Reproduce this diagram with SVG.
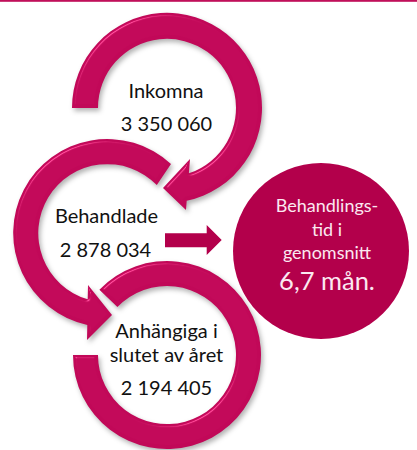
<svg xmlns="http://www.w3.org/2000/svg" width="417" height="450" viewBox="0 0 417 450">
<style>
.ring{fill:#c10858;filter:url(#bevel)}
.lbl{font-family:Lato,"Open Sans","Liberation Sans",sans-serif;font-size:20px;fill:#111;text-anchor:middle}
.wl{font-family:Lato,"Open Sans","Liberation Sans",sans-serif;fill:#fbe8f1;text-anchor:middle}
.flat{fill:#b3004b}
</style>
<defs>
<filter id="bevel" x="-15%" y="-15%" width="135%" height="135%" color-interpolation-filters="sRGB">
<feGaussianBlur in="SourceAlpha" stdDeviation="2.5" result="b"/>
<feOffset in="b" dx="2" dy="3" result="ob"/>
<feFlood flood-color="#000" flood-opacity="0.3"/>
<feComposite in2="ob" operator="in" result="shadow"/>
<feGaussianBlur in="SourceAlpha" stdDeviation="1.8" result="b2"/>
<feSpecularLighting in="b2" surfaceScale="4" specularConstant="0.7" specularExponent="28" lighting-color="#ffffff" result="spec">
<feDistantLight azimuth="235" elevation="32"/>
</feSpecularLighting>
<feComposite in="spec" in2="SourceAlpha" operator="in" result="specIn"/>
<feComposite in="SourceGraphic" in2="specIn" operator="arithmetic" k1="0" k2="1" k3="0.4" k4="0" result="lit"/>
<feMerge><feMergeNode in="shadow"/><feMergeNode in="lit"/></feMerge>
</filter>
</defs>
<rect x="0" y="0" width="417" height="1.8" fill="#c0105a"/>
<g id="node-inkomna">
<path class="ring" d="M72,108 A95,95 0 1 1 186.7,200.8 L186,210 L163,188 L190,159 L188.9,173.3 A69,69 0 1 0 98,108 Z"/>
<text class="lbl" x="166" y="98">Inkomna</text>
<text class="lbl" x="166.5" y="131">3 350 060</text>
</g>
<g id="node-behandlade">
<path class="ring" d="M171,164 A94,94 0 1 0 87.3,324.9 L87,340 L112,315 L88,285 L87.7,299.3 A69,69 0 1 1 156.8,185.1 Z"/>
<text class="lbl" x="106.5" y="223">Behandlade</text>
<text class="lbl" x="105.5" y="257">2 878 034</text>
</g>
<g id="node-anhangiga">
<path class="ring" d="M73,355 A94,94 0 1 0 99.4,289.7 L117.4,307.1 A69,69 0 1 1 98,355 Z"/>
<text class="lbl" x="166.5" y="338">Anhängiga i</text>
<text class="lbl" x="166.5" y="362">slutet av året</text>
<text class="lbl" x="166.5" y="395">2 194 405</text>
</g>
<g id="node-snitt">
<circle class="flat" cx="321" cy="251" r="88"/>
<text class="wl" x="327" y="212" font-size="18">Behandlings-</text>
<text class="wl" x="327" y="235.5" font-size="18">tid i</text>
<text class="wl" x="327" y="259" font-size="18">genomsnitt</text>
<text class="wl" x="327" y="290" font-size="25.5">6,7 mån.</text>
</g>
<g id="connectors">
<polygon class="flat" points="165,233.3 206.7,233.3 206.7,225 221.7,240 206.7,255 206.7,247.3 165,247.3"/>
</g>
</svg>
